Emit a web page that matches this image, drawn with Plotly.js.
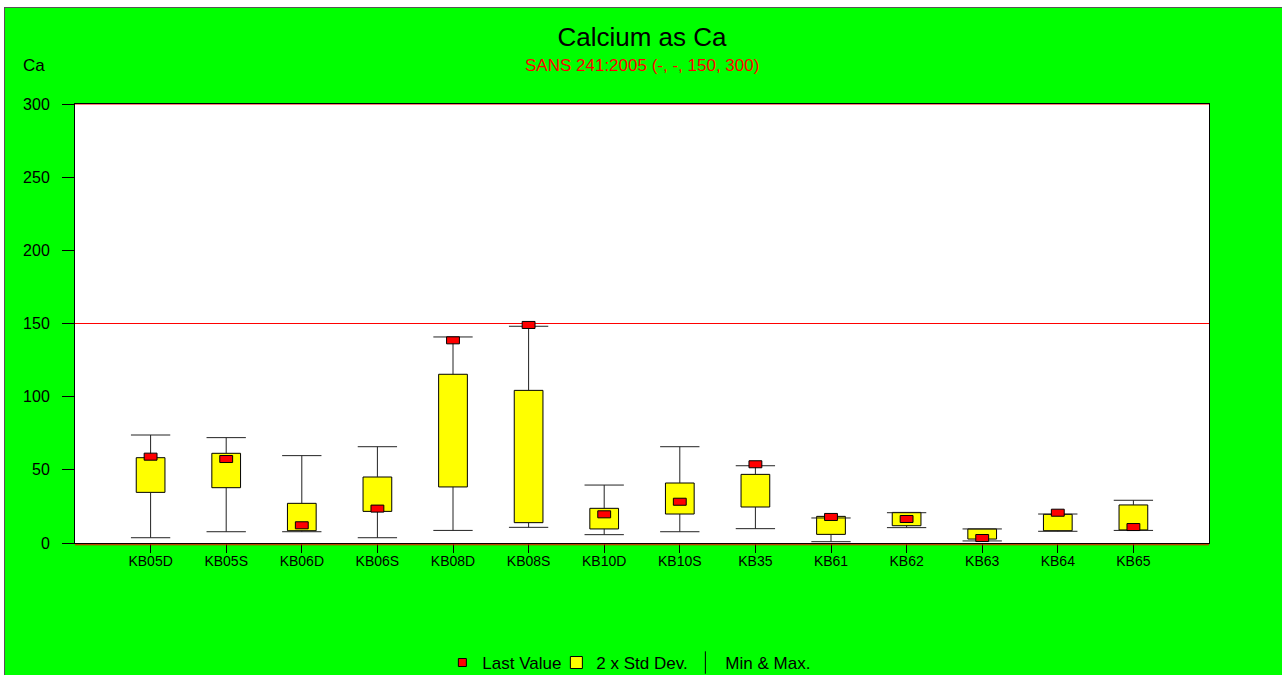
<!DOCTYPE html>
<html>
<head>
<meta charset="utf-8">
<script src="https://cdn.plot.ly/plotly-3.0.1.min.js"></script>
<style>
html,body{margin:0;padding:0;background:#fff;overflow:hidden;width:1282px;height:675px;}
#wrap{position:absolute;left:4px;top:7px;border-left:1px solid #555;border-top:1px solid #555;}
#chart{width:1290px;height:680px;}
</style>
</head>
<body>
<div id="wrap"><div id="chart"></div></div>
<script>
// ---- data ----
const sites     = ['KB05D','KB05S','KB06D','KB06S','KB08D','KB08S','KB10D','KB10S','KB35','KB61','KB62','KB63','KB64','KB65'];
const minVals   = [3.6, 7.7, 7.7, 3.6, 8.6, 10.7, 5.7, 7.7, 9.8, 0.9, 10.5, 1.4, 8.0, 8.6];
const maxVals   = [73.8, 72.0, 59.7, 65.8, 140.8, 148.1, 39.6, 65.8, 52.8, 17.1, 20.7, 9.6, 19.8, 29.2];
const sdLow     = [34.6, 37.8, 8.4, 21.6, 38.3, 13.9, 9.6, 19.8, 24.6, 5.9, 11.8, 2.7, 8.4, 8.9];
const sdHigh    = [58.3, 61.3, 27.1, 45.1, 115.3, 104.3, 23.7, 41.0, 46.9, 18.2, 20.9, 9.6, 19.6, 26.0];
const lastVals  = [59.0, 57.4, 12.1, 23.5, 138.5, 149.0, 19.6, 28.2, 53.8, 17.8, 16.4, 3.4, 20.7, 10.9];
const standards = [150, 300];
const yTicks    = [0, 50, 100, 150, 200, 250, 300];

// ---- styling constants ----
const FONT = 'Liberation Sans, Arial, sans-serif';
const BOX_W = 0.38, CAP_HALF = 0.26, LV_HALF_W = 0.085, LV_HALF_H = 2.4;
const X_RANGE = [0, sites.length + 1];

const xs = sites.map((s, i) => i + 1);

// whiskers (lower: min -> box bottom, upper: box top -> max, plus caps)
const wx = [], wy = [];
xs.forEach((x, i) => {
  wx.push(x, x, null, x, x, null, x - CAP_HALF, x + CAP_HALF, null, x - CAP_HALF, x + CAP_HALF, null);
  wy.push(minVals[i], sdLow[i], null, sdHigh[i], maxVals[i], null, minVals[i], minVals[i], null, maxVals[i], maxVals[i], null);
});

// last value rectangles
const lx = [], ly = [];
xs.forEach((x, i) => {
  const v = lastVals[i];
  lx.push(x - LV_HALF_W, x + LV_HALF_W, x + LV_HALF_W, x - LV_HALF_W, x - LV_HALF_W, null);
  ly.push(v - LV_HALF_H, v - LV_HALF_H, v + LV_HALF_H, v + LV_HALF_H, v - LV_HALF_H, null);
});

// standard limit lines
const sx = [], sy = [];
standards.forEach(v => { sx.push(X_RANGE[0], X_RANGE[1], null); sy.push(v, v, null); });

const traces = [
  { type: 'scatter', x: [null], y: [null], mode: 'markers', name: 'Last Value', legendwidth: 69,
    marker: { symbol: 'square', size: 8, color: '#ff0000', line: { color: '#000', width: 1 } } },
  { type: 'bar', x: xs, y: sdHigh.map((h, i) => h - sdLow[i]), base: sdLow, width: BOX_W,
    name: '2 x Std Dev.', legendwidth: 84,
    marker: { color: '#ffff00', line: { color: '#000', width: 1 } }, hoverinfo: 'skip' },
  { type: 'scatter', x: sx, y: sy, mode: 'lines', showlegend: false, hoverinfo: 'skip', cliponaxis: false,
    line: { color: '#ff0000', width: 1 } },
  { type: 'scatter', x: wx, y: wy, mode: 'lines', showlegend: false, hoverinfo: 'skip',
    line: { color: '#222', width: 1 } },
  { type: 'scatter', x: [null], y: [null], mode: 'markers', name: 'Min & Max.',
    marker: { symbol: 'line-ns-open', size: 17, color: '#000', line: { color: '#000', width: 1 } } },
  { type: 'scatter', x: lx, y: ly, mode: 'lines', fill: 'toself', fillcolor: '#ff0000',
    line: { color: '#000', width: 1 }, showlegend: false, hoverinfo: 'skip' }
];

const layout = {
  width: 1290, height: 680,
  paper_bgcolor: '#00ff00', plot_bgcolor: '#ffffff',
  margin: { l: 70, r: 86, t: 96, b: 145 },
  font: { family: FONT, color: '#000', size: 14 },
  title: { text: 'Calcium as Ca', font: { family: FONT, size: 26, color: '#000' },
           xref: 'paper', x: 0.5, xanchor: 'center', yref: 'container', y: 0.9574, yanchor: 'middle' },
  barmode: 'overlay',
  showlegend: true,
  legend: { orientation: 'h', xref: 'container', x: 0.484, xanchor: 'center',
            yref: 'container', y: 0.0368, yanchor: 'middle',
            itemwidth: 30, bgcolor: 'rgba(0,0,0,0)', font: { family: FONT, size: 17 }, traceorder: 'normal' },
  xaxis: {
    range: X_RANGE, tickvals: xs, ticktext: sites, ticks: 'outside', ticklen: 9, tickcolor: '#000',
    ticklabelstandoff: -4, layer: 'below traces',
    showgrid: false, zeroline: false, showline: true, linecolor: '#000', linewidth: 1, mirror: true,
    tickfont: { family: FONT, size: 14 }, fixedrange: true
  },
  yaxis: {
    range: [0, 300], tickvals: yTicks, ticks: 'outside', ticklen: 12, tickcolor: '#000',
    ticklabelstandoff: 9, layer: 'below traces',
    showgrid: false, zeroline: false, showline: true, linecolor: '#000', linewidth: 1, mirror: true,
    tickfont: { family: FONT, size: 16 }, fixedrange: true
  },
  shapes: [
    { type: 'line', xref: 'paper', x0: 0, x1: 1, yref: 'paper', y0: -0.004, y1: -0.004,
      line: { color: '#ff0000', width: 1 }, layer: 'above' }
  ],
  annotations: [
    { text: 'SANS 241:2005 (-, -, 150, 300)', xref: 'paper', yref: 'paper', x: 0.5, y: 1.0888,
      xanchor: 'center', yanchor: 'middle', showarrow: false, font: { family: FONT, size: 17, color: '#ff0000' } },
    { text: 'Ca', xref: 'paper', yref: 'paper', x: -0.0362, y: 1.0888,
      xanchor: 'center', yanchor: 'middle', showarrow: false, font: { family: FONT, size: 17, color: '#000' } }
  ]
};

Plotly.newPlot('chart', traces, layout, { displayModeBar: false, staticPlot: true });
</script>
</body>
</html>
